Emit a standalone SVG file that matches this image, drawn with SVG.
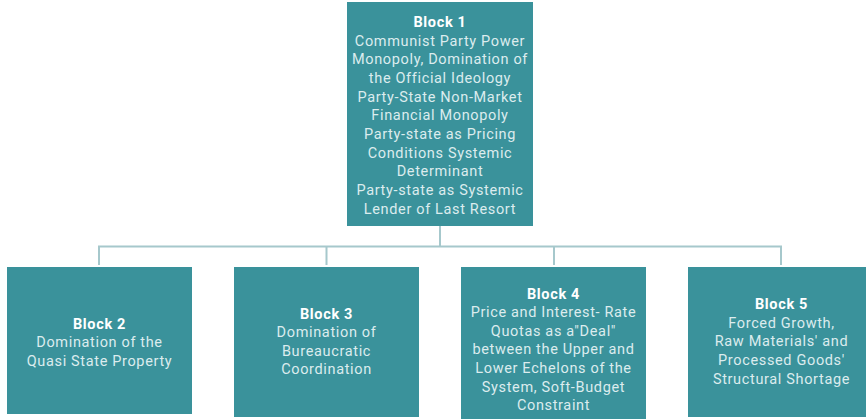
<svg xmlns="http://www.w3.org/2000/svg" width="866" height="419" viewBox="0 0 866 419">
<style>
.box{fill:#3a929b}
.t{font-family:Roboto,"Open Sans","Liberation Sans",sans-serif;font-size:14.5px;fill:#dcecee;text-anchor:middle;letter-spacing:0.65px}
.h{font-weight:bold;fill:#ffffff}
.c{stroke:#a6c8cc;stroke-width:2;fill:none}
</style>
<rect width="866" height="419" fill="#ffffff"/>
<g id="connectors">
<path class="c" d="M440 225V246.5M99 246.5H781M99 245.5V265M326.5 245.5V265M554 245.5V265M781 245.5V265"/>
</g>
<g id="block1">
<rect class="box" x="347" y="2" width="186" height="224"/>
<text class="t"><tspan class="h" x="440" y="27">Block 1</tspan><tspan x="440" y="45.7">Communist Party Power</tspan><tspan x="440" y="64.3">Monopoly, Domination of</tspan><tspan x="440" y="83">the Official Ideology</tspan><tspan x="440" y="101.6">Party-State Non-Market</tspan><tspan x="440" y="120.3">Financial Monopoly</tspan><tspan x="440" y="138.9">Party-state as Pricing</tspan><tspan x="440" y="157.6">Conditions Systemic</tspan><tspan x="440" y="176.2">Determinant</tspan><tspan x="440" y="194.9">Party-state as Systemic</tspan><tspan x="440" y="213.5">Lender of Last Resort</tspan></text>
</g>
<g id="block2">
<rect class="box" x="7" y="267" width="185" height="147"/>
<text class="t"><tspan class="h" x="99.5" y="328.5">Block 2</tspan><tspan x="99.5" y="347">Domination of the</tspan><tspan x="99.5" y="365.6">Quasi State Property</tspan></text>
</g>
<g id="block3">
<rect class="box" x="234" y="267" width="185" height="150"/>
<text class="t"><tspan class="h" x="326.5" y="318.5">Block 3</tspan><tspan x="326.5" y="337">Domination of</tspan><tspan x="326.5" y="355.6">Bureaucratic</tspan><tspan x="326.5" y="374.3">Coordination</tspan></text>
</g>
<g id="block4">
<rect class="box" x="461" y="267" width="185" height="152"/>
<text class="t"><tspan class="h" x="553.5" y="298.5">Block 4</tspan><tspan x="553.5" y="317">Price and Interest- Rate</tspan><tspan x="553.5" y="335.6">Quotas as a"Deal"</tspan><tspan x="553.5" y="354.3">between the Upper and</tspan><tspan x="553.5" y="372.9">Lower Echelons of the</tspan><tspan x="553.5" y="391.6">System, Soft-Budget</tspan><tspan x="553.5" y="410.2">Constraint</tspan></text>
</g>
<g id="block5">
<rect class="box" x="688" y="267" width="187" height="150"/>
<text class="t"><tspan class="h" x="781.5" y="309">Block 5</tspan><tspan x="781.5" y="327.6">Forced Growth,</tspan><tspan x="781.5" y="346.3">Raw Materials' and</tspan><tspan x="781.5" y="364.9">Processed Goods'</tspan><tspan x="781.5" y="383.6">Structural Shortage</tspan></text>
</g>
</svg>
